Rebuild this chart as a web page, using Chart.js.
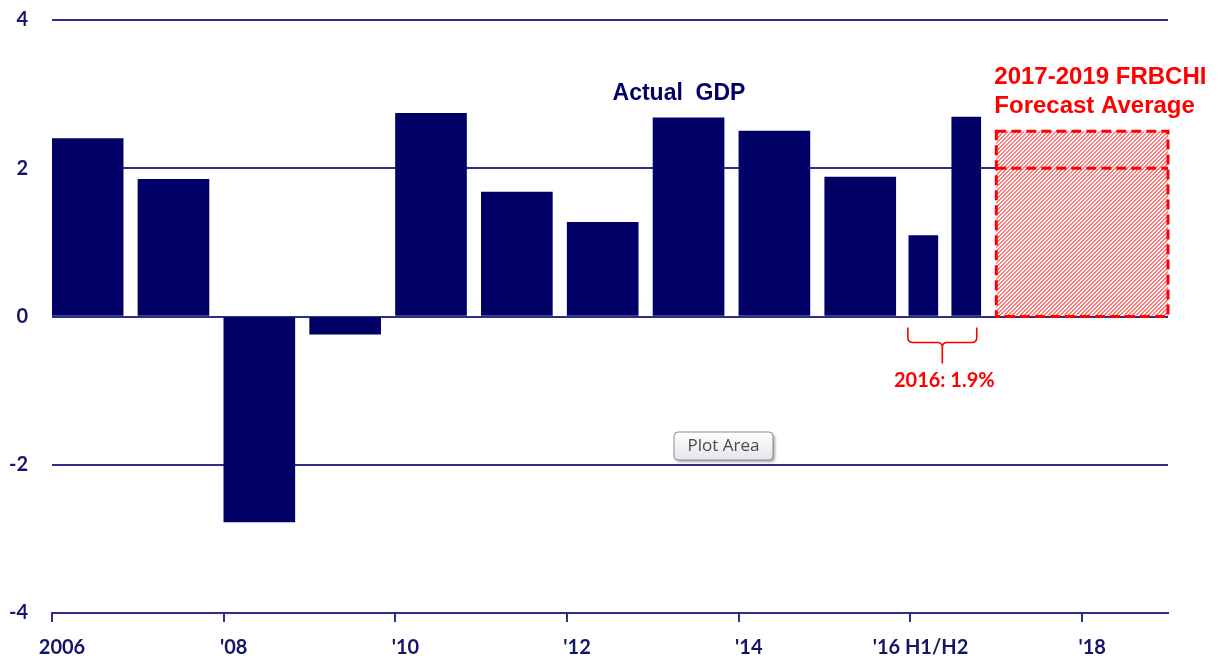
<!DOCTYPE html>
<html>
<head>
<meta charset="utf-8">
<script src="https://cdn.jsdelivr.net/npm/chart.js@4.4.1/dist/chart.umd.min.js"></script>
<style>
  html, body { margin: 0; padding: 0; background: #fff; }
  canvas { display: block; }
</style>
</head>
<body>
<canvas id="chart" width="1221" height="658"></canvas>
<script>
const annualYears = [2006, 2007, 2008, 2009, 2010, 2011, 2012, 2013, 2014, 2015]
const annualGrowth = [2.4, 1.85, -2.77, -0.24, 2.74, 1.68, 1.27, 2.68, 2.5, 1.88]
const halfYearStarts = [2016, 2016.5]
const halfYearLabels = ['2016 H1', '2016 H2']
const halfYearGrowth = [1.09, 2.69]
const forecastYears = [2017, 2019]
const forecastHigh = 2.5
const forecastAvg = 2.0
const xTickYears = [2006, 2008, 2010, 2012, 2014, 2016, 2018]
const xTickLabels = ['2006', "'08", "'10", "'12", "'14", "'16 H1/H2", "'18"]
const yTickValues = [-4, -2, 0, 2, 4]

const NAVY = '#000066'
const AXIS = '#2e2e8a'
const LABEL = '#15156b'
const RED = '#ff0000'

const overlay = {
  id: 'overlay',
  afterDatasetsDraw(chart) {
    const ctx = chart.ctx
    const xs = chart.scales.x, ys = chart.scales.y
    const y0 = ys.getPixelForValue(0)

    // forecast box, hatched
    const fx1 = xs.getPixelForValue(forecastYears[0])
    const fx2 = xs.getPixelForValue(forecastYears[1])
    const fTop = ys.getPixelForValue(forecastHigh)
    const fAvg = ys.getPixelForValue(forecastAvg)
    ctx.save()
    ctx.fillStyle = '#fff'
    ctx.fillRect(fx1, fTop, fx2 - fx1, y0 - fTop - 1)
    ctx.beginPath()
    ctx.rect(fx1, fTop, fx2 - fx1, y0 - fTop - 1)
    ctx.clip()
    ctx.strokeStyle = '#ff4a4a'
    ctx.lineWidth = 1.1
    ctx.beginPath()
    for (let k = fx1 - (y0 - fTop); k < fx2; k += 4) {
      ctx.moveTo(k, y0)
      ctx.lineTo(k + (y0 - fTop), fTop)
    }
    ctx.stroke()
    ctx.restore()

    ctx.save()
    ctx.strokeStyle = RED
    ctx.lineWidth = 3
    ctx.setLineDash([10, 5])
    ctx.strokeRect(fx1, fTop, fx2 - fx1, y0 - fTop)
    ctx.beginPath()
    ctx.moveTo(fx1, fAvg); ctx.lineTo(fx2, fAvg)
    ctx.stroke()
    ctx.restore()

    // bracket under the 2016 half-year bars
    const halves = chart.getDatasetMeta(1).data
    const bx1 = halves[0].x - halves[0].width / 2 - 1
    const bx2 = halves[1].x + halves[1].width / 2 - 4
    const bm = (bx1 + bx2) / 2
    const t = y0 + 11, h = y0 + 26, s = y0 + 47, r = 5
    ctx.save()
    ctx.strokeStyle = RED
    ctx.lineWidth = 1.6
    ctx.beginPath()
    ctx.moveTo(bx1, t); ctx.lineTo(bx1, h - r)
    ctx.quadraticCurveTo(bx1, h, bx1 + r, h)
    ctx.lineTo(bm - r, h); ctx.quadraticCurveTo(bm, h, bm, h + r)
    ctx.lineTo(bm, s)
    ctx.moveTo(bx2, t); ctx.lineTo(bx2, h - r)
    ctx.quadraticCurveTo(bx2, h, bx2 - r, h)
    ctx.lineTo(bm + r, h); ctx.quadraticCurveTo(bm, h, bm, h + r)
    ctx.stroke()
    ctx.fillStyle = RED
    ctx.font = 'bold 20px Lato'
    ctx.textAlign = 'center'
    ctx.textBaseline = 'middle'
    ctx.fillText('2016: 1.9%', bm + 2, y0 + 64)

    // text labels
    ctx.font = 'bold 23px "Liberation Sans"'
    ctx.fillStyle = NAVY
    ctx.fillText('Actual  GDP', 679, 94)
    ctx.fillStyle = RED
    ctx.textAlign = 'left'
    ctx.font = 'bold 24px "Liberation Sans"'
    ctx.fillText('2017-2019 FRBCHI', fx1 - 2, 77)
    ctx.fillText('Forecast Average', fx1 - 2, 106)
    ctx.restore()

    // Excel "Plot Area" hover tag
    ctx.save()
    ctx.shadowColor = 'rgba(0,0,0,0.35)'
    ctx.shadowOffsetX = 2; ctx.shadowOffsetY = 2; ctx.shadowBlur = 3
    const gx = 674, gy = 432, gw = 99, gh = 28
    const grad = ctx.createLinearGradient(0, gy, 0, gy + gh)
    grad.addColorStop(0, '#ffffff'); grad.addColorStop(1, '#e4e5ee')
    ctx.fillStyle = grad
    ctx.beginPath(); ctx.roundRect(gx, gy, gw, gh, 4); ctx.fill()
    ctx.shadowColor = 'transparent'
    ctx.strokeStyle = '#8c8c8c'; ctx.lineWidth = 1
    ctx.stroke()
    ctx.fillStyle = '#4a4a4a'
    ctx.font = '17px "Open Sans"'
    ctx.textAlign = 'center'; ctx.textBaseline = 'middle'
    ctx.fillText('Plot Area', gx + gw / 2, gy + gh / 2)
    ctx.restore()
  }
}

new Chart(document.getElementById('chart'), {
  type: 'bar',
  data: {
    datasets: [{
      label: 'Annual',
      data: annualYears.map((yr, i) => ({ x: yr + 0.415, y: annualGrowth[i] })),
      backgroundColor: NAVY,
      barThickness: 71,
      grouped: false
    }, {
      label: 'Half-year',
      data: halfYearStarts.map((yr, i) => ({ x: yr + 0.15, y: halfYearGrowth[i], name: halfYearLabels[i] })),
      backgroundColor: NAVY,
      barThickness: 29,
      grouped: false
    }]
  },
  options: {
    responsive: false,
    animation: false,
    layout: { padding: { top: 20, right: 53, left: 0, bottom: 0 } },
    plugins: { legend: { display: false }, tooltip: { enabled: false } },
    scales: {
      x: {
        type: 'linear',
        min: 2006,
        max: 2019,
        offset: false,
        afterBuildTicks: s => { s.ticks = xTickYears.map(v => ({ value: v })) },
        afterFit: s => { s.height = 45 },
        border: { display: true, color: AXIS, width: 2 },
        grid: { offset: false, drawOnChartArea: false, drawTicks: true, tickLength: 9, color: AXIS, lineWidth: 2 },
        ticks: {
          autoSkip: false,
          maxRotation: 0,
          padding: 14,
          labelOffset: 10,
          color: LABEL,
          font: { family: 'Lato', weight: 'bold', size: 20 },
          callback: v => xTickLabels[xTickYears.indexOf(v)]
        }
      },
      y: {
        min: -4,
        max: 4,
        afterBuildTicks: s => { s.ticks = yTickValues.map(v => ({ value: v })) },
        afterFit: s => { s.width = 52; s.paddingTop = 12; s.paddingBottom = 12 },
        border: { display: false },
        grid: { color: AXIS, lineWidth: 2, drawTicks: false },
        ticks: {
          padding: 24,
          color: LABEL,
          font: { family: 'Lato', weight: 'bold', size: 20 }
        }
      }
    }
  },
  plugins: [overlay]
})
</script>
</body>
</html>
